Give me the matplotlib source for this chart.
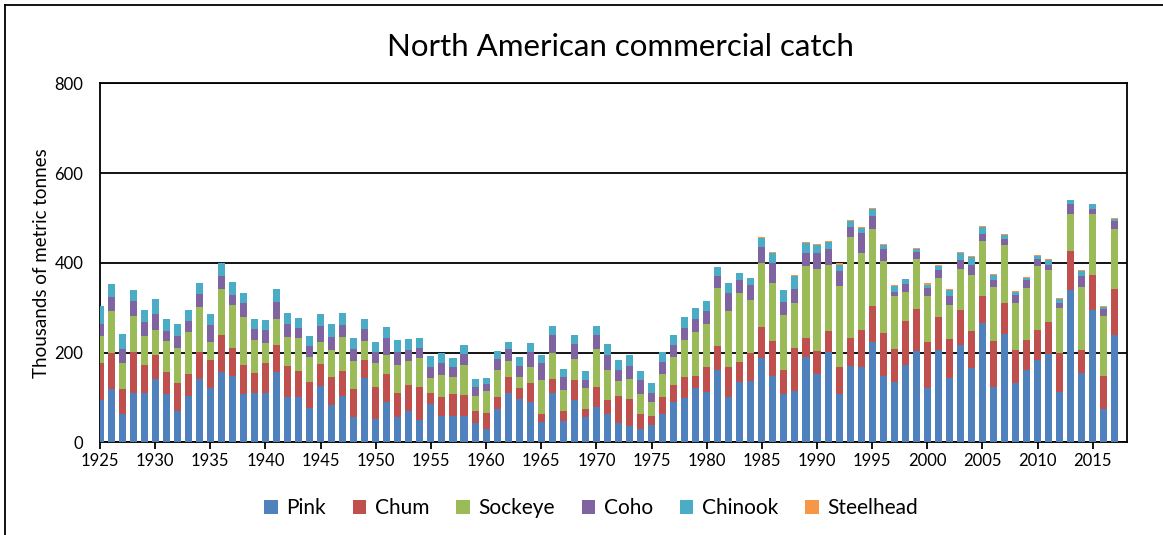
import numpy as np
import matplotlib
matplotlib.use('Agg')
import matplotlib.pyplot as plt
from matplotlib.patches import Patch
from matplotlib.lines import Line2D

plt.rcParams['font.family'] = ['Lato', 'DejaVu Sans']

years = np.arange(1925, 2018)

pink = [94, 119, 64, 109, 109, 141, 107, 69, 104, 141,
        121, 156, 147, 107, 109, 109, 156, 101, 101, 76,
        125, 83, 104, 56, 144, 51, 90, 56, 70, 50,
        85, 59, 59, 59, 42, 30, 74, 109, 96, 89,
        46, 109, 47, 95, 56, 78, 64, 42, 36, 29,
        38, 64, 90, 99, 122, 113, 161, 102, 134, 136,
        187, 147, 108, 115, 189, 152, 202, 108, 171, 167,
        223, 148, 135, 172, 203, 122, 206, 144, 216, 166,
        265, 123, 242, 132, 161, 184, 197, 113, 340, 155,
        295, 74, 240]
chum = [83, 81, 55, 93, 63, 53, 50, 63, 49, 61,
        62, 82, 64, 65, 45, 67, 61, 69, 58, 58,
        49, 63, 55, 63, 39, 72, 63, 54, 58, 73,
        25, 41, 49, 47, 28, 35, 28, 37, 26, 43,
        18, 33, 23, 44, 18, 45, 31, 62, 60, 34,
        21, 38, 37, 47, 25, 55, 54, 65, 44, 62,
        70, 79, 54, 96, 44, 52, 47, 60, 62, 83,
        81, 96, 72, 98, 93, 101, 73, 86, 79, 83,
        60, 102, 69, 73, 66, 67, 71, 87, 86, 50,
        77, 74, 102]
sockeye = [59, 92, 58, 79, 65, 57, 68, 79, 92, 99,
           41, 103, 94, 107, 75, 45, 58, 64, 74, 56,
           50, 59, 75, 62, 43, 53, 41, 62, 53, 64,
           34, 50, 38, 67, 34, 50, 60, 36, 24, 36,
           75, 58, 47, 46, 48, 84, 67, 33, 46, 45,
           30, 51, 63, 82, 98, 96, 129, 126, 155, 119,
           142, 129, 122, 99, 160, 183, 147, 180, 224, 172,
           171, 159, 118, 66, 112, 103, 87, 76, 92, 124,
           124, 120, 128, 105, 117, 142, 117, 100, 83, 140,
           136, 134, 133]
coho = [28, 31, 30, 34, 31, 36, 22, 25, 25, 29,
        37, 29, 24, 31, 24, 30, 38, 30, 22, 25,
        35, 29, 27, 26, 27, 26, 39, 30, 24, 24,
        24, 26, 22, 23, 19, 14, 23, 26, 24, 34,
        37, 39, 29, 34, 16, 32, 32, 25, 28, 30,
        21, 26, 26, 27, 30, 29, 26, 40, 28, 33,
        36, 44, 29, 31, 29, 34, 34, 34, 22, 44,
        30, 28, 11, 17, 15, 17, 19, 21, 19, 23,
        16, 17, 14, 18, 17, 15, 11, 11, 21, 26,
        12, 14, 19]
chinook = [39, 30, 34, 24, 26, 32, 28, 28, 24, 26,
           26, 29, 29, 22, 22, 22, 28, 24, 21, 21,
           26, 30, 28, 26, 22, 22, 23, 25, 25, 22,
           24, 23, 19, 20, 19, 15, 18, 16, 19, 20,
           18, 20, 18, 20, 21, 21, 24, 21, 24, 21,
           22, 22, 23, 24, 25, 21, 20, 23, 16, 17,
           21, 22, 26, 29, 22, 19, 16, 14, 15, 11,
           14, 9, 12, 10, 8, 8, 8, 13, 16, 17,
           14, 10, 9, 7, 5, 8, 11, 9, 9, 10,
           10, 6, 4]
steelhead = [0] * 60 + [1, 2, 1, 2, 2, 2, 2, 3, 2, 2,
                        3, 2, 2, 2, 2, 3, 3, 2, 2, 2,
                        3, 2, 3, 2, 2, 1, 1, 2, 2, 2,
                        2, 2, 2]

names = ['Pink', 'Chum', 'Sockeye', 'Coho', 'Chinook', 'Steelhead']
colors = ['#4F81BD', '#C0504D', '#9BBB59', '#8064A2', '#4BACC6', '#F79646']
series = [pink, chum, sockeye, coho, chinook, steelhead]

W, H = 1163, 535
fig = plt.figure(figsize=(W / 100, H / 100), dpi=100)
ax = fig.add_axes([100 / W, 1 - 442.3 / H, 1027 / W, 359 / H])

bottom = np.zeros(len(years))
for vals, c in zip(series, colors):
    vals = np.array(vals, dtype=float)
    ax.bar(years, vals, bottom=bottom, width=0.64, color=c, linewidth=0, zorder=3)
    bottom += vals

ax.set_xlim(1925, 2018.1)
ax.set_ylim(0, 800)
ax.set_yticks([0, 200, 400, 600, 800])
ax.set_xticks(np.arange(1925, 2016, 5))
ax.yaxis.grid(True, color='black', linewidth=1.3, zorder=1)
ax.set_axisbelow(True)
for s in ax.spines.values():
    s.set_color('black')
    s.set_linewidth(1.3)
ax.tick_params(axis='x', direction='out', length=5, width=1.3, labelsize=12, pad=3)
ax.tick_params(axis='y', direction='out', length=0, labelsize=12, pad=12)
ax.set_ylabel('Thousands of metric tonnes', fontsize=13.5, labelpad=3)

fig.text(620 / W, 1 - 47 / H, 'North American commercial catch', fontsize=22.5,
         ha='center', va='center')

handles = [Patch(facecolor=c, edgecolor='none') for c in colors]
fig.legend(handles, names, loc='center', bbox_to_anchor=(591 / W, 1 - 508 / H),
           ncol=6, frameon=False, fontsize=15, handlelength=0.65, handleheight=0.65,
           handletextpad=0.4, columnspacing=1.3)

# outer frame
fig.add_artist(Line2D([5 / W, 5 / W], [0, 1 - 5 / H], color='black', linewidth=1.3,
                      transform=fig.transFigure))
fig.add_artist(Line2D([5 / W, 1], [1 - 5 / H, 1 - 5 / H], color='black', linewidth=1.3,
                      transform=fig.transFigure))

fig.savefig('out.png', dpi=100)
